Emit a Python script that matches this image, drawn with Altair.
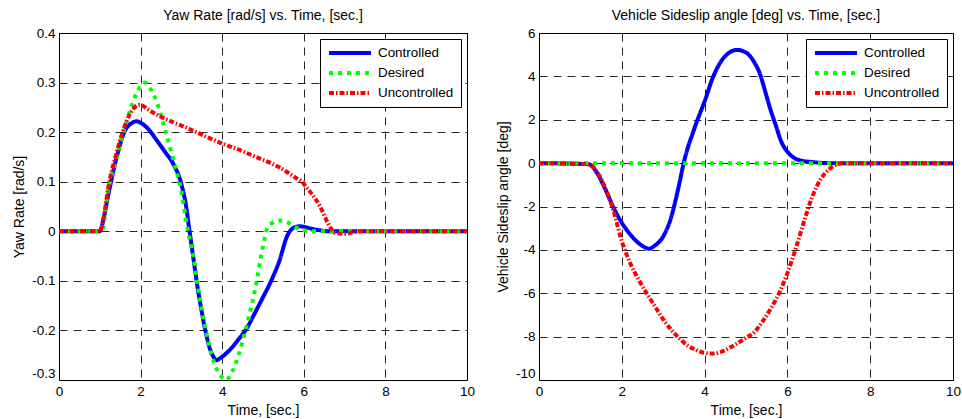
import altair as alt
import pandas as pd

SERIES = ["Controlled", "Desired", "Uncontrolled"]
COLORS = ["#0000ff", "#00ff00", "#ff0000"]
DASHES = [[1, 0], [4, 5], [5, 2, 1.5, 2]]
WIDTHS = [4, 4, 1.3]

# ---- Left panel: yaw rate [rad/s]
yaw_ctrl_t = [0, 1.0, 1.1, 1.2, 1.4, 1.6, 1.8, 1.9, 2.0, 2.2, 2.4, 2.6, 2.8, 3.0, 3.1, 3.2, 3.3, 3.4, 3.5,
              3.6, 3.7, 3.8, 3.85, 4.0, 4.2, 4.4, 4.6, 4.8, 5.0, 5.2, 5.4, 5.6, 5.7, 5.8, 5.9, 6.0, 6.2,
              6.4, 6.6, 10]
yaw_ctrl_v = [0, 0, 0.028, 0.07, 0.145, 0.2, 0.219, 0.222, 0.219, 0.205, 0.183, 0.16, 0.136, 0.095,
              0.058, 0.0, -0.058, -0.115, -0.163, -0.205, -0.237, -0.255, -0.26, -0.253, -0.238,
              -0.218, -0.196, -0.165, -0.133, -0.1, -0.06, -0.008, 0.004, 0.009, 0.01, 0.009, 0.005,
              0.002, 0, 0]

yaw_des_t = [0, 1.05, 1.2, 1.4, 1.6, 1.8, 2.0, 2.1, 2.2, 2.4, 2.6, 2.8, 3.0, 3.1, 3.2, 3.3, 3.4, 3.6,
             3.8, 4.0, 4.1, 4.2, 4.4, 4.6, 4.8, 5.0, 5.1, 5.2, 5.4, 5.6, 5.8, 6.0, 6.2, 10]
yaw_des_v = [0, 0, 0.08, 0.145, 0.205, 0.258, 0.293, 0.3, 0.292, 0.26, 0.205, 0.145, 0.08, 0.03,
             -0.015, -0.055, -0.11, -0.2, -0.265, -0.295, -0.3, -0.29, -0.25, -0.19, -0.12, -0.03,
             0.005, 0.015, 0.022, 0.018, 0.008, 0.002, 0, 0]

yaw_unc_t = [0, 1.0, 1.1, 1.2, 1.4, 1.6, 1.8, 1.98, 2.2, 2.4, 2.6, 2.8, 3.0, 3.2, 3.4, 3.6, 3.8, 4.0,
             4.2, 4.4, 4.6, 4.8, 5.0, 5.2, 5.4, 5.6, 5.8, 5.95, 6.1, 6.2, 6.4, 6.6, 6.7, 6.8, 7.0,
             7.2, 7.4, 10]
yaw_unc_v = [0, 0, 0.03, 0.085, 0.155, 0.21, 0.245, 0.255, 0.245, 0.235, 0.227, 0.22, 0.213, 0.206,
             0.199, 0.191, 0.184, 0.177, 0.171, 0.165, 0.158, 0.151, 0.144, 0.137, 0.129, 0.119,
             0.108, 0.1, 0.085, 0.075, 0.05, 0.015, 0.002, -0.004, -0.005, -0.002, 0, 0]

# ---- Right panel: vehicle sideslip angle [deg]
beta_ctrl_t = [0, 1.2, 1.4, 1.6, 1.8, 2.0, 2.2, 2.4, 2.6, 2.65, 2.8, 3.0, 3.2, 3.3, 3.4, 3.5, 3.6, 3.7,
               3.8, 3.9, 4.0, 4.2, 4.4, 4.6, 4.78, 5.0, 5.2, 5.33, 5.45, 5.57, 5.73, 5.85, 5.97, 6.1,
               6.3, 6.6, 7.0, 10]
beta_ctrl_v = [0, -0.05, -0.45, -1.2, -2.05, -2.75, -3.28, -3.68, -3.92, -3.95, -3.8, -3.38, -2.45,
               -1.7, -0.85, 0.05, 0.75, 1.3, 1.85, 2.35, 2.85, 3.95, 4.7, 5.1, 5.22, 5.1, 4.65, 4.15,
               3.4, 2.6, 1.68, 1.0, 0.6, 0.33, 0.13, 0.05, 0, 0]

beta_des_t = [0, 10]
beta_des_v = [0, 0]

beta_unc_t = [0, 1.2, 1.4, 1.6, 1.8, 2.0, 2.2, 2.4, 2.6, 2.8, 3.0, 3.2, 3.4, 3.6, 3.8, 4.0, 4.2, 4.4,
              4.6, 4.8, 5.0, 5.2, 5.4, 5.6, 5.8, 6.0, 6.2, 6.4, 6.6, 6.8, 7.0, 7.2, 7.4, 10]
beta_unc_v = [0, -0.05, -0.4, -1.15, -2.2, -3.6, -4.6, -5.35, -6.0, -6.6, -7.2, -7.7, -8.1, -8.42,
              -8.62, -8.75, -8.78, -8.7, -8.52, -8.3, -8.05, -7.8, -7.3, -6.7, -6.0, -5.07, -3.95,
              -2.7, -1.55, -0.75, -0.3, -0.06, 0, 0]

X_TICKS = [0, 2, 4, 6, 8, 10]
YAW_TICKS = [-0.3, -0.2, -0.1, 0, 0.1, 0.2, 0.3, 0.4]
BETA_TICKS = [-10, -8, -6, -4, -2, 0, 2, 4, 6]

FONT = "Liberation Sans"


def frame(parts):
    rows = []
    for name, ts, vs in parts:
        for t, v in zip(ts, vs):
            rows.append({"t": t, "v": v, "series": name})
    return pd.DataFrame(rows)


df_yaw = frame([("Controlled", yaw_ctrl_t, yaw_ctrl_v),
                ("Desired", yaw_des_t, yaw_des_v),
                ("Uncontrolled", yaw_unc_t, yaw_unc_v)])
df_beta = frame([("Controlled", beta_ctrl_t, beta_ctrl_v),
                 ("Desired", beta_des_t, beta_des_v),
                 ("Uncontrolled", beta_unc_t, beta_unc_v)])


def panel(df, title, ytitle, ydom, yticks, width):
    low_label = {"condition": {"test": f"datum.value <= {yticks[0]}", "value": "bottom"}, "value": "middle"}
    return alt.Chart(df, title=alt.TitleParams(title, fontSize=14, fontWeight="normal", font=FONT,
                                               color="black", offset=3)).mark_line(
        interpolate="monotone", strokeCap="butt", strokeJoin="round").encode(
        x=alt.X("t:Q", scale=alt.Scale(domain=[0, 10], nice=False),
                axis=alt.Axis(values=X_TICKS, title="Time, [sec.]", labelPadding=4, titlePadding=6,
                              labelFlush=False)),
        y=alt.Y("v:Q", scale=alt.Scale(domain=ydom, nice=False),
                axis=alt.Axis(values=yticks, title=ytitle, labelExpr="'' + datum.value",
                              labelPadding=4, titlePadding=5, labelFlush=False,
                              labelBaseline=low_label)),
        color=alt.Color("series:N", scale=alt.Scale(domain=SERIES, range=COLORS), legend=alt.Legend(title=None)),
        strokeDash=alt.StrokeDash("series:N", scale=alt.Scale(domain=SERIES, range=DASHES), legend=alt.Legend(title=None)),
        strokeWidth=alt.StrokeWidth("series:N", scale=alt.Scale(domain=SERIES, range=WIDTHS), legend=alt.Legend(title=None)),
    ).properties(width=width, height=347)


left = panel(df_yaw, "Yaw Rate [rad/s] vs. Time, [sec.]", "Yaw Rate [rad/s]", [-0.3, 0.4], YAW_TICKS, 408)
right = panel(df_beta, "Vehicle Sideslip angle [deg] vs. Time, [sec.]", "Vehicle Sideslip angle [deg]",
              [-10, 6], BETA_TICKS, 414)

chart = alt.hconcat(left, right, spacing=19).resolve_scale(
    color="independent", strokeDash="independent", strokeWidth="independent"
).resolve_legend(
    color="independent", strokeDash="independent", strokeWidth="independent"
).properties(
    padding={"left": 12, "top": 8, "right": 0, "bottom": 5},
    background="white",
).configure_view(
    stroke="black", strokeWidth=1
).configure_axis(
    grid=True, gridColor="black", gridDash=[8, 6], gridWidth=1, gridOpacity=0.85,
    domain=False, ticks=False,
    labelFont=FONT, labelFontSize=13.5, labelColor="black",
    titleFont=FONT, titleFontSize=14, titleFontWeight="normal", titleColor="black",
).configure_legend(
    orient="top-right", offset=6, fillColor="white", strokeColor="black", padding=7,
    symbolType="stroke", symbolSize=1764, clipHeight=14, rowPadding=6,
    labelFont=FONT, labelFontSize=13.4, labelColor="black", labelOffset=5,
    cornerRadius=0,
)

chart.save("out.html", embed_options={"renderer": "svg", "actions": False})
